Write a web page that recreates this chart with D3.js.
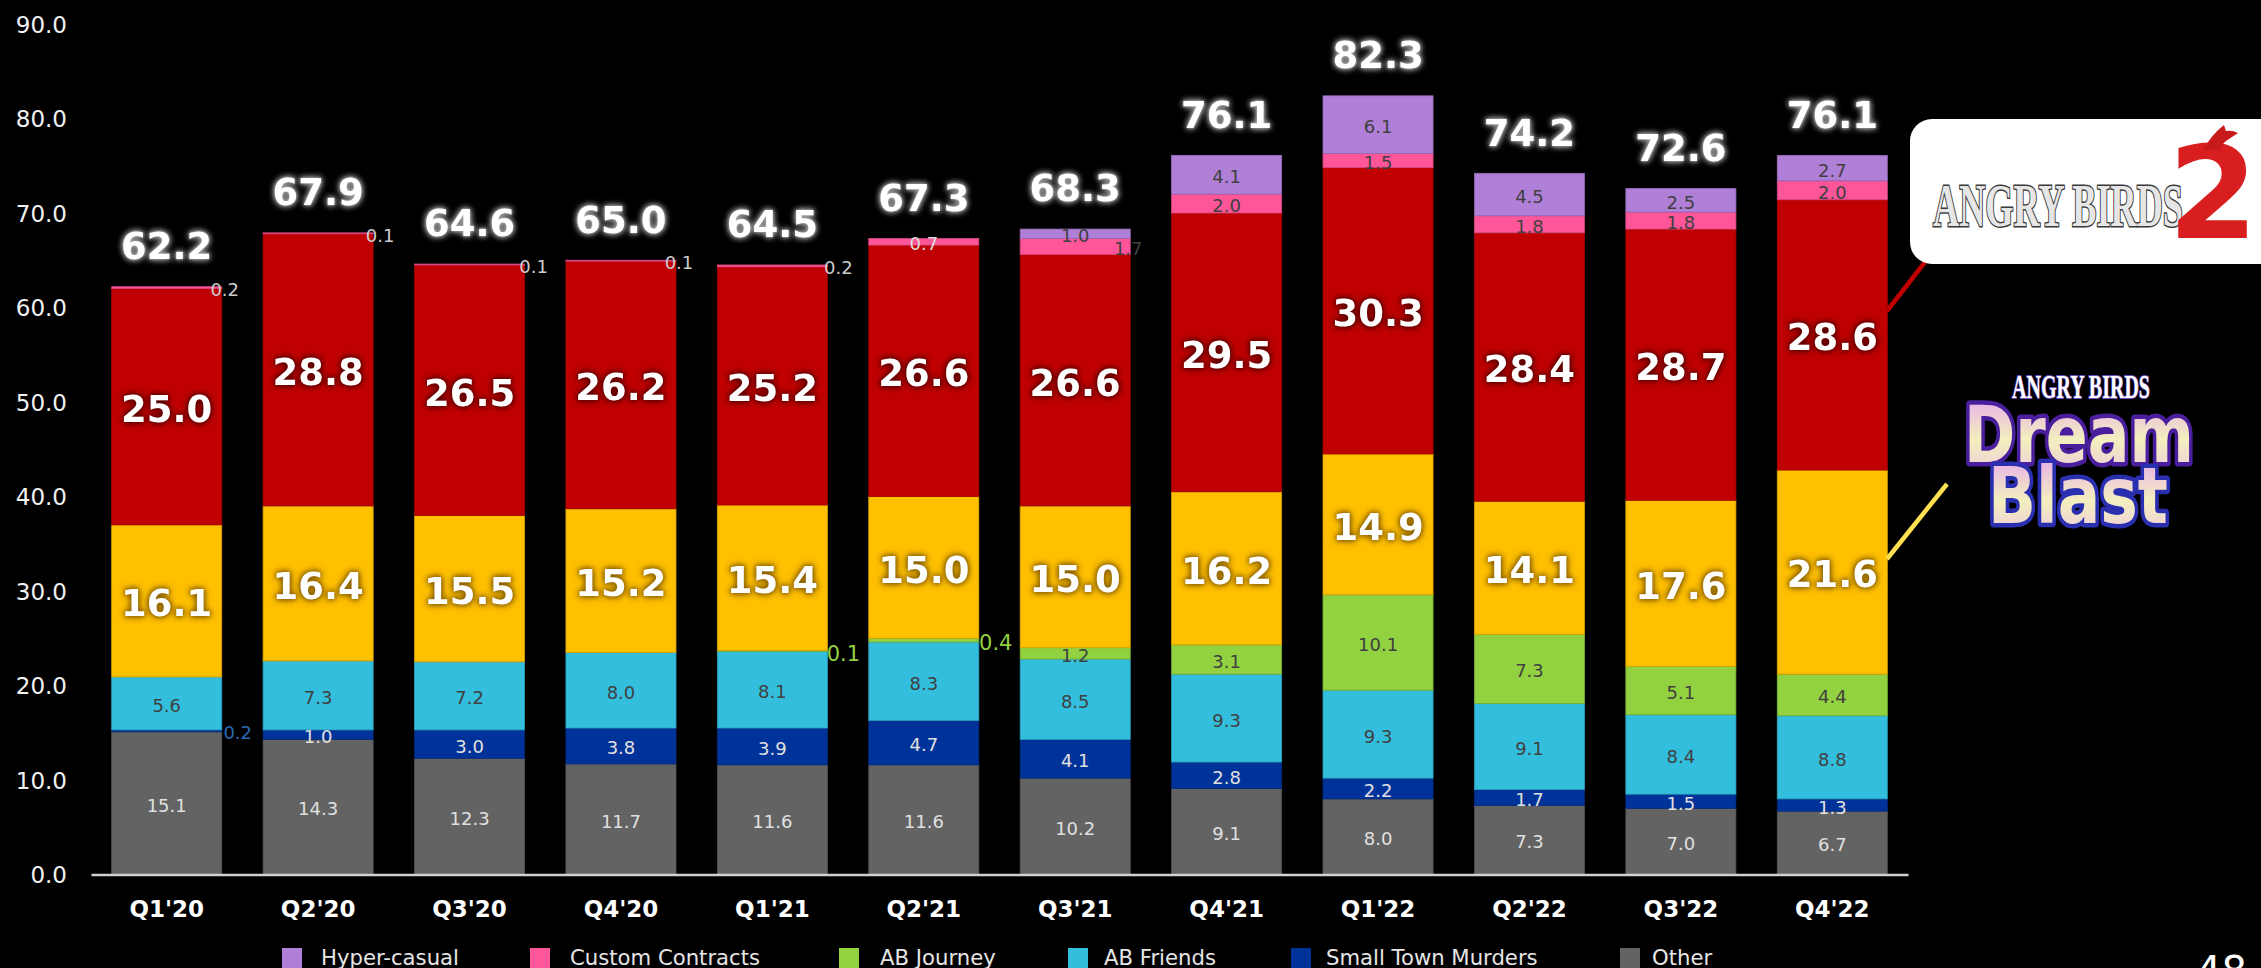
<!DOCTYPE html>
<html>
<head>
<meta charset="utf-8">
<script src="https://cdn.jsdelivr.net/npm/d3@7"></script>
<style>
  html, body { margin: 0; padding: 0; background: #000; overflow: hidden; }
  text { font-family: "DejaVu Sans", sans-serif; }
</style>
</head>
<body>
<div id="chart"></div>
<script>
const quarters = ["Q1'20", "Q2'20", "Q3'20", "Q4'20", "Q1'21", "Q2'21", "Q3'21", "Q4'21", "Q1'22", "Q2'22", "Q3'22", "Q4'22"]
const totals = [62.2, 67.9, 64.6, 65.0, 64.5, 67.3, 68.3, 76.1, 82.3, 74.2, 72.6, 76.1]

const other = [15.1, 14.3, 12.3, 11.7, 11.6, 11.6, 10.2, 9.1, 8.0, 7.3, 7.0, 6.7]
const smallTownMurders = [0.2, 1.0, 3.0, 3.8, 3.9, 4.7, 4.1, 2.8, 2.2, 1.7, 1.5, 1.3]
const abFriends = [5.6, 7.3, 7.2, 8.0, 8.1, 8.3, 8.5, 9.3, 9.3, 9.1, 8.4, 8.8]
const abJourney = [0, 0, 0, 0, 0.1, 0.4, 1.2, 3.1, 10.1, 7.3, 5.1, 4.4]
const dreamBlast = [16.1, 16.4, 15.5, 15.2, 15.4, 15.0, 15.0, 16.2, 14.9, 14.1, 17.6, 21.6]
const angryBirds2 = [25.0, 28.8, 26.5, 26.2, 25.2, 26.6, 26.6, 29.5, 30.3, 28.4, 28.7, 28.6]
const customContracts = [0.2, 0.1, 0.1, 0.1, 0.2, 0.7, 1.7, 2.0, 1.5, 1.8, 1.8, 2.0]
const hyperCasual = [0, 0, 0, 0, 0, 0, 1.0, 4.1, 6.1, 4.5, 2.5, 2.7]

const yTicks = [0, 10, 20, 30, 40, 50, 60, 70, 80, 90]

// bottom to top, same order as the stack
const series = [
    { key: 'other', name: 'Other', values: other, color: '#636363', label: '#e0e0e0' },
    { key: 'stm', name: 'Small Town Murders', values: smallTownMurders, color: '#003399', label: '#e0e0e0' },
    { key: 'friends', name: 'AB Friends', values: abFriends, color: '#33BEDD', label: '#404040' },
    { key: 'journey', name: 'AB Journey', values: abJourney, color: '#92D13F', label: '#404040' },
    { key: 'dream', name: 'Dream Blast', values: dreamBlast, color: '#FFC000', big: '#8a6000' },
    { key: 'ab2', name: 'Angry Birds 2', values: angryBirds2, color: '#C00000', big: '#5a0000' },
    { key: 'custom', name: 'Custom Contracts', values: customContracts, color: '#FF5599', label: '#404040' },
    { key: 'hyper', name: 'Hyper-casual', values: hyperCasual, color: '#B07FD8', label: '#404040' }
]

// labels that sit off the bar in the original
const labelNudge = {
    'stm-0': { dx: 71, fill: '#2a6ab0' },
    'journey-4': { dx: 71, fill: '#92D13F', size: 21 },
    'journey-5': { dx: 72, fill: '#92D13F', size: 21 },
    'custom-0': { dx: 58, fill: '#cccccc' },
    'custom-1': { dx: 62, fill: '#cccccc' },
    'custom-2': { dx: 64, fill: '#cccccc' },
    'custom-3': { dx: 58, fill: '#cccccc' },
    'custom-4': { dx: 66, fill: '#cccccc' },
    'custom-5': { dx: 0, fill: '#dddddd' },
    'custom-6': { dx: 53, fill: '#404040' }
}

const legendItems = [
    { name: 'Hyper-casual', swatch: 282, text: 321, color: '#B07FD8' },
    { name: 'Custom Contracts', swatch: 530, text: 570, color: '#FF5599' },
    { name: 'AB Journey', swatch: 839, text: 880, color: '#92D13F' },
    { name: 'AB Friends', swatch: 1068, text: 1104, color: '#33BEDD' },
    { name: 'Small Town Murders', swatch: 1291, text: 1326, color: '#003399' },
    { name: 'Other', swatch: 1620, text: 1652, color: '#636363' }
]

const width = 2261
const height = 968

const svg = d3.select('#chart')
    .append('svg')
    .attr('width', width)
    .attr('height', height)
    .style('display', 'block')
    .style('background', '#000')

const x = d3.scaleBand()
    .domain(quarters)
    .range([91, 1908])
    .paddingInner(0.273)
    .paddingOuter(0.1365)

const y = d3.scaleLinear()
    .domain([0, 90])
    .range([874.5, 24])

const rows = quarters.map((q, i) => {
    const row = { quarter: q }
    series.forEach(s => { row[s.key] = s.values[i] })
    return row
})

const stacked = d3.stack().keys(series.map(s => s.key))(rows)

// bars
const layers = svg.append('g')
    .selectAll('g')
    .data(stacked)
    .join('g')
    .attr('fill', (d, i) => series[i].color)
    .attr('stroke', (d, i) => d3.color(series[i].color).darker(0.5))
    .attr('stroke-width', 0.8)

layers.selectAll('rect')
    .data(d => d.filter(p => p[1] - p[0] > 0))
    .join('rect')
    .attr('x', d => x(d.data.quarter))
    .attr('y', d => y(d[1]))
    .attr('width', x.bandwidth())
    .attr('height', d => y(d[0]) - y(d[1]))

// axes
const yAxis = svg.append('g')
    .attr('transform', 'translate(67,1)')
    .call(d3.axisLeft(y).tickValues(yTicks).tickSize(0).tickPadding(0).tickFormat(d3.format('.1f')))
yAxis.select('.domain').remove()
yAxis.selectAll('text')
    .style('font-size', '23px')
    .style('fill', '#f2f2f2')

const xAxis = svg.append('g')
    .attr('transform', `translate(0,${y(0)})`)
    .call(d3.axisBottom(x).tickSize(0).tickPadding(26))
xAxis.select('.domain')
    .attr('stroke', '#d0d0d0')
    .attr('stroke-width', 2.5)
xAxis.selectAll('text')
    .style('font-size', '23px')
    .style('font-weight', 'bold')
    .style('fill', '#fff')

// value labels
stacked.forEach((layer, si) => {
    const s = series[si]
    layer.forEach((p, i) => {
        const value = s.values[i]
        if (!value) return
        const nudge = labelNudge[`${s.key}-${i}`] || {}
        const t = svg.append('text')
            .attr('x', x(quarters[i]) + x.bandwidth() / 2 + (nudge.dx || 0))
            .attr('y', y((p[0] + p[1]) / 2) + 2)
            .attr('dy', '0.36em')
            .attr('text-anchor', 'middle')
            .text(value.toFixed(1))
        if (s.big) {
            t.style('font-size', '37px')
                .style('font-weight', 'bold')
                .style('fill', '#fff')
                .style('filter', `drop-shadow(0 0 3px ${s.big}) drop-shadow(0 0 2px ${s.big})`)
        } else {
            t.style('font-size', `${nudge.size || 18}px`)
                .style('fill', nudge.fill || s.label)
        }
    })
})

// totals above the bars
svg.append('g')
    .selectAll('text')
    .data(totals)
    .join('text')
    .attr('x', (d, i) => x(quarters[i]) + x.bandwidth() / 2)
    .attr('y', (d, i) => y(d3.sum(series, s => s.values[i])) - 41)
    .attr('dy', '0.36em')
    .attr('text-anchor', 'middle')
    .style('font-size', '37px')
    .style('font-weight', 'bold')
    .style('fill', '#fff')
    .style('filter', 'drop-shadow(0 0 3px #999) drop-shadow(0 0 1px #bbb)')
    .text(d => d.toFixed(1))

// legend
const legend = svg.append('g')
    .selectAll('g')
    .data(legendItems)
    .join('g')

legend.append('rect')
    .attr('x', d => d.swatch)
    .attr('y', 948)
    .attr('width', 20)
    .attr('height', 20)
    .attr('fill', d => d.color)

legend.append('text')
    .attr('x', d => d.text)
    .attr('y', 957)
    .attr('dy', '0.36em')
    .style('font-size', '21.2px')
    .style('fill', '#e6e6e6')
    .text(d => d.name)

// leader lines
svg.append('line')
    .attr('x1', 1887).attr('y1', 311).attr('x2', 1925).attr('y2', 262)
    .attr('stroke', '#C00000').attr('stroke-width', 4.5)
svg.append('line')
    .attr('x1', 1887).attr('y1', 559).attr('x2', 1947).attr('y2', 484)
    .attr('stroke', '#FFE050').attr('stroke-width', 4.5)

// Angry Birds 2 logo, rebuilt from text
svg.append('rect')
    .attr('x', 1910).attr('y', 119).attr('width', 380).attr('height', 145)
    .attr('rx', 22)
    .attr('fill', '#fff')

svg.append('text')
    .attr('x', 1933).attr('y', 226)
    .attr('textLength', 250)
    .attr('lengthAdjust', 'spacingAndGlyphs')
    .style('font-family', '"Liberation Serif", serif')
    .style('font-weight', 'bold')
    .style('font-size', '62px')
    .style('fill', '#e6e6e6')
    .style('stroke', '#3a3a3a')
    .style('stroke-width', 3)
    .style('paint-order', 'stroke')
    .text('ANGRY BIRDS')

svg.append('text')
    .attr('x', 2168).attr('y', 238)
    .attr('textLength', 90)
    .attr('lengthAdjust', 'spacingAndGlyphs')
    .style('font-weight', 'bold')
    .style('font-size', '128px')
    .style('fill', '#d81e1e')
    .text('2')

svg.append('path')
    .attr('d', 'M2203,150 Q2212,134 2224,125 L2226,131 Q2232,130 2238,133 L2226,141 Q2222,144 2220,150 Z')
    .attr('fill', '#c81a1a')

// Dream Blast logo, rebuilt from text
const defs = svg.append('defs')
const grad = defs.append('linearGradient')
    .attr('id', 'dream-fill')
    .attr('x1', 0).attr('y1', 0).attr('x2', 0).attr('y2', 1)
grad.append('stop').attr('offset', '15%').attr('stop-color', '#eab8e4')
grad.append('stop').attr('offset', '55%').attr('stop-color', '#f3efbe')
grad.append('stop').attr('offset', '85%').attr('stop-color', '#f0d4d4')

svg.append('text')
    .attr('x', 2012).attr('y', 398)
    .attr('textLength', 138)
    .attr('lengthAdjust', 'spacingAndGlyphs')
    .style('font-family', '"Liberation Serif", serif')
    .style('font-weight', 'bold')
    .style('font-size', '34px')
    .style('fill', '#fff')
    .style('stroke', '#6a4cc0')
    .style('stroke-width', 2)
    .style('paint-order', 'stroke')
    .text('ANGRY BIRDS')

svg.append('text')
    .attr('x', 1964).attr('y', 462)
    .attr('textLength', 230)
    .attr('lengthAdjust', 'spacingAndGlyphs')
    .style('font-weight', 'bold')
    .style('font-size', '78px')
    .style('fill', 'url(#dream-fill)')
    .style('stroke', '#4a1f9e')
    .style('stroke-width', 9)
    .style('stroke-linejoin', 'round')
    .style('paint-order', 'stroke')
    .text('Dream')

svg.append('text')
    .attr('x', 1988).attr('y', 523)
    .attr('textLength', 180)
    .attr('lengthAdjust', 'spacingAndGlyphs')
    .style('font-weight', 'bold')
    .style('font-size', '78px')
    .style('fill', 'url(#dream-fill)')
    .style('stroke', '#2a2fb0')
    .style('stroke-width', 9)
    .style('stroke-linejoin', 'round')
    .style('paint-order', 'stroke')
    .text('Blast')

// page number, cut off by the bottom edge in the original
svg.append('text')
    .attr('x', 2196).attr('y', 985)
    .style('font-size', '40px')
    .style('fill', '#fff')
    .text('48')
</script>
</body>
</html>
